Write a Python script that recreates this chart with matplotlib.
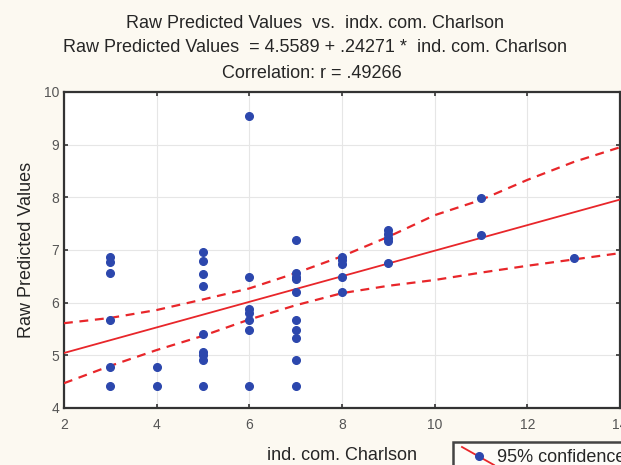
import numpy as np
import matplotlib
matplotlib.use("Agg")
import matplotlib.pyplot as plt
from matplotlib.patches import Rectangle
from matplotlib.lines import Line2D

plt.rcParams['font.family'] = ['Liberation Sans', 'DejaVu Sans']

# scatter data: Charlson index vs raw predicted values
charlson = [3, 3, 3, 3, 3, 3,
            4, 4,
            5, 5, 5, 5, 5, 5, 5, 5, 5,
            6, 6, 6, 6, 6, 6, 6,
            7, 7, 7, 7, 7, 7, 7, 7, 7, 7,
            8, 8, 8, 8, 8,
            9, 9, 9, 9, 9,
            11, 11,
            13]
predicted = [6.87, 6.78, 6.56, 5.67, 4.78, 4.42,
             4.78, 4.42,
             6.96, 6.79, 6.54, 6.32, 5.40, 5.07, 5.01, 4.92, 4.42,
             9.55, 6.48, 5.87, 5.80, 5.68, 5.48, 4.42,
             7.19, 6.57, 6.49, 6.45, 6.20, 5.68, 5.48, 5.32, 4.92, 4.42,
             6.87, 6.81, 6.73, 6.48, 6.20,
             7.38, 7.30, 7.22, 7.17, 6.76,
             7.99, 7.28,
             6.84]

# regression from the title
intercept = 4.5589
slope = 0.24271

# 95% confidence band
band_x = [2, 3, 4, 5, 6, 7, 8, 9, 10, 11, 12, 13, 14]
band_upper = [5.61, 5.71, 5.86, 6.06, 6.27, 6.56, 6.88, 7.25, 7.66, 7.95, 8.33, 8.67, 8.95]
band_lower = [4.47, 4.80, 5.10, 5.37, 5.68, 5.95, 6.18, 6.32, 6.43, 6.57, 6.70, 6.82, 6.94]

red = '#e8262a'
blue = '#2c47ad'
bg = '#fcf9f1'
txt = '#262626'

fig = plt.figure(figsize=(6.21, 4.65), dpi=100, facecolor=bg)
ax = fig.add_axes([0.103, 0.1226, 0.8953, 0.6796])
ax.set_facecolor('white')

fit_x = np.array([2, 14])
ax.plot(fit_x, intercept + slope * fit_x, color=red, lw=1.3, zorder=3)
ax.plot(band_x, band_upper, color=red, lw=1.6, ls=(0, (4, 3)), zorder=3)
ax.plot(band_x, band_lower, color=red, lw=1.6, ls=(0, (4, 3)), zorder=3)
ax.plot(charlson, predicted, 'o', color=blue, ms=5.5, mec=blue, zorder=4)

ax.set_xlim(2, 14)
ax.set_ylim(4, 10)
ax.set_xticks(range(2, 15, 2))
ax.set_yticks(range(4, 11))
ax.grid(True, color='#e6e6e6', lw=0.8)
ax.set_axisbelow(True)
ax.tick_params(direction='in', length=3, width=1.2, colors='#333333',
               labelcolor='#555555', labelsize=10, top=True, right=True)
ax.tick_params(axis='x', pad=7)
for s in ax.spines.values():
    s.set_color('#333333')
    s.set_linewidth(1.6)

ax.set_xlabel('ind. com. Charlson', fontsize=13, color=txt, labelpad=11)
ax.set_ylabel('Raw Predicted Values', fontsize=13, color=txt, labelpad=6)

fig.text(0.507, 0.950, 'Raw Predicted Values  vs.  indx. com. Charlson',
         ha='center', va='center', fontsize=13, color=txt)
fig.text(0.508, 0.897, 'Raw Predicted Values  = 4.5589 + .24271 *  ind. com. Charlson',
         ha='center', va='center', fontsize=13, color=txt)
fig.text(0.502, 0.842, 'Correlation: r = .49266',
         ha='center', va='center', fontsize=13, color=txt)

# legend box, cut off by the figure edge as in the source
fig.add_artist(Rectangle((453 / 621, -0.05), 0.4, (465 - 442) / 465 + 0.05,
                         transform=fig.transFigure, facecolor='#fdfcf8',
                         edgecolor='#444444', lw=1.8))
fig.add_artist(Line2D([462 / 621, 494 / 621], [1 - 447 / 465, 1 - 465 / 465],
                      transform=fig.transFigure, color=red, lw=1.3))
fig.add_artist(Line2D([479 / 621], [1 - 456 / 465], marker='o', ms=5.5,
                      color=blue, transform=fig.transFigure))
fig.text(497 / 621, 1 - 457 / 465, '95% confidence', ha='left', va='center',
         fontsize=13, color=txt)

fig.savefig('out.png', dpi=100, facecolor=bg)
